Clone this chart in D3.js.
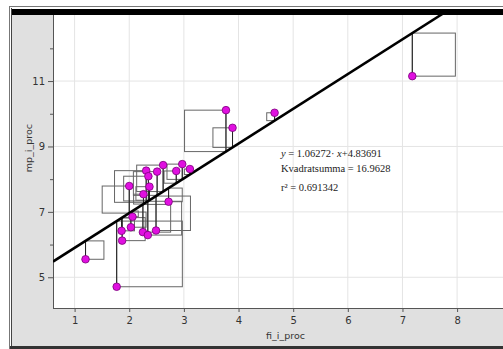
<!DOCTYPE html>
<html>
<head>
<meta charset="utf-8">
<script src="https://cdn.jsdelivr.net/npm/d3@7"></script>
<style>
body { margin:0; background:#fff; }
svg { display:block; }
</style>
</head>
<body>
<svg id="chart" width="503" height="349"></svg>
<script>
// data
var fiProc = [7.18, 3.77, 3.89, 4.66, 1.20, 1.77, 2.31, 2.35, 2.00, 2.37, 2.26, 2.62,
              2.51, 2.86, 2.97, 3.11, 2.72, 2.06, 2.03, 1.86, 1.87, 2.25, 2.34, 2.49];
var mpProc = [11.15, 10.11, 9.57, 10.03, 5.55, 4.71, 8.26, 8.09, 7.79, 7.77, 7.54, 8.43,
              8.23, 8.25, 8.46, 8.31, 7.31, 6.85, 6.53, 6.42, 6.12, 6.38, 6.29, 6.43];
var slope = 1.06272, intercept = 4.83691;
var xTicks = [1, 2, 3, 4, 5, 6, 7, 8];
var yTicksMajor = [5, 7, 9, 11];
var yTicksMinor = [6, 8, 10, 12];
var statLines = ["Kvadratsumma = 16.9628", "r\u00B2 = 0.691342"];

var svg = d3.select("#chart");
var pLeft = 53, pRight = 503, pTop = 15, pBottom = 308;

var x = d3.scaleLinear().domain([0.6046, 8.84]).range([pLeft, pRight]);
var y = d3.scaleLinear().domain([4.06, 13.02]).range([pBottom, pTop]);

// frame
svg.append("rect").attr("x", 12).attr("y", 9).attr("width", 491).attr("height", 337).style("fill", "#e0e0e0");
svg.append("line").attr("x1", 9.5).attr("x2", 9.5).attr("y1", 6).attr("y2", 349).style("stroke", "#777");
svg.append("line").attr("x1", 11.5).attr("x2", 11.5).attr("y1", 8).attr("y2", 349).style("stroke", "#444");
svg.append("line").attr("x1", 9).attr("x2", 503).attr("y1", 6.5).attr("y2", 6.5).style("stroke", "#777");
svg.append("rect").attr("x", 12).attr("y", 9).attr("width", 491).attr("height", 6).style("fill", "#000");
svg.append("rect").attr("x", 10).attr("y", 346).attr("width", 493).attr("height", 3).style("fill", "#333");

// plot area
svg.append("rect").attr("x", pLeft).attr("y", pTop).attr("width", pRight - pLeft).attr("height", pBottom - pTop).style("fill", "#fff");

svg.append("clipPath").attr("id", "plotclip")
  .append("rect").attr("x", pLeft).attr("y", pTop).attr("width", pRight - pLeft).attr("height", pBottom - pTop);

var grid = svg.append("g");
grid.selectAll(".gx").data(xTicks).enter().append("line")
  .attr("x1", function(d){ return x(d); }).attr("x2", function(d){ return x(d); })
  .attr("y1", pTop).attr("y2", pBottom)
  .style("stroke", "#e4e4e4");
grid.selectAll(".gy").data(yTicksMajor).enter().append("line")
  .attr("x1", pLeft).attr("x2", pRight)
  .attr("y1", function(d){ return y(d); }).attr("y2", function(d){ return y(d); })
  .style("stroke", "#e4e4e4");

// axes
var xAxis = svg.append("g").attr("transform", "translate(0," + pBottom + ")")
  .call(d3.axisBottom(x).tickValues(xTicks).tickSize(4).tickFormat(d3.format("d")));
var yAxis = svg.append("g").attr("transform", "translate(" + pLeft + ",0)")
  .call(d3.axisLeft(y).tickValues(yTicksMajor).tickSize(5).tickFormat(d3.format("d")));
var yMinor = svg.append("g").attr("transform", "translate(" + pLeft + ",0)")
  .call(d3.axisLeft(y).tickValues(yTicksMinor).tickSize(3).tickFormat(""));
[xAxis, yAxis, yMinor].forEach(function(a){
  a.select(".domain").remove();
  a.selectAll("line").style("stroke", "#555");
  a.selectAll("text").style("font-family", "'DejaVu Sans', sans-serif").style("font-size", "10px").style("fill", "#333");
});
svg.append("line").attr("x1", pLeft + 0.5).attr("x2", pLeft + 0.5).attr("y1", pTop).attr("y2", pBottom).style("stroke", "#555");
svg.append("line").attr("x1", pLeft).attr("x2", pRight).attr("y1", pBottom + 0.5).attr("y2", pBottom + 0.5).style("stroke", "#555");
xAxis.selectAll("text").attr("dy", "0.9em");

// axis titles
svg.append("text").attr("x", x(4.86)).attr("y", 339).attr("text-anchor", "middle")
  .style("font-family", "'DejaVu Sans', sans-serif").style("font-size", "9.5px").style("fill", "#333")
  .text("fi_i_proc");
svg.append("text").attr("transform", "translate(32," + y(8.95) + ") rotate(-90)").attr("text-anchor", "middle")
  .style("font-family", "'DejaVu Sans', sans-serif").style("font-size", "9.5px").style("fill", "#333")
  .text("mp_i_proc");

var plot = svg.append("g").attr("clip-path", "url(#plotclip)");

// residual squares
var pts = fiProc.map(function(d, i){ return { x: d, y: mpProc[i], fit: slope * d + intercept }; });
plot.selectAll(".sq").data(pts).enter().append("rect")
  .attr("x", function(d){
    var s = Math.abs(y(d.y) - y(d.fit));
    return d.y > d.fit ? x(d.x) - s : x(d.x);
  })
  .attr("y", function(d){ return Math.min(y(d.y), y(d.fit)); })
  .attr("width", function(d){ return Math.abs(y(d.y) - y(d.fit)); })
  .attr("height", function(d){ return Math.abs(y(d.y) - y(d.fit)); })
  .style("fill", "none").style("stroke", "#666").style("stroke-width", 1);
plot.selectAll(".res").data(pts).enter().append("line")
  .attr("x1", function(d){ return x(d.x); }).attr("x2", function(d){ return x(d.x); })
  .attr("y1", function(d){ return y(d.y); }).attr("y2", function(d){ return y(d.fit); })
  .style("stroke", "#222").style("stroke-width", 1);

// regression line
var xd = x.domain();
plot.append("line")
  .attr("x1", x(xd[0])).attr("y1", y(slope * xd[0] + intercept))
  .attr("x2", x(xd[1])).attr("y2", y(slope * xd[1] + intercept))
  .style("stroke", "#000").style("stroke-width", 2.5);

// points
plot.selectAll(".pt").data(pts).enter().append("circle")
  .attr("cx", function(d){ return x(d.x); })
  .attr("cy", function(d){ return y(d.y); })
  .attr("r", 3.8)
  .style("fill", "#e010e0").style("stroke", "#7a007a").style("stroke-width", 0.8);

// regression text
var tx = 281;
var eq = svg.append("text").attr("x", tx).attr("y", 157)
  .style("font-family", "'Liberation Serif', serif").style("font-size", "10.5px").style("fill", "#222");
eq.append("tspan").style("font-style", "italic").text("y");
eq.append("tspan").text(" = " + slope + "\u00B7 ");
eq.append("tspan").style("font-style", "italic").text("x");
eq.append("tspan").text("+" + intercept);
svg.append("text").attr("x", tx).attr("y", 172)
  .style("font-family", "'Liberation Serif', serif").style("font-size", "10.5px").style("fill", "#222")
  .text(statLines[0]);
svg.append("text").attr("x", tx).attr("y", 191)
  .style("font-family", "'Liberation Serif', serif").style("font-size", "10.5px").style("fill", "#222")
  .text(statLines[1]);
</script>
</body>
</html>
